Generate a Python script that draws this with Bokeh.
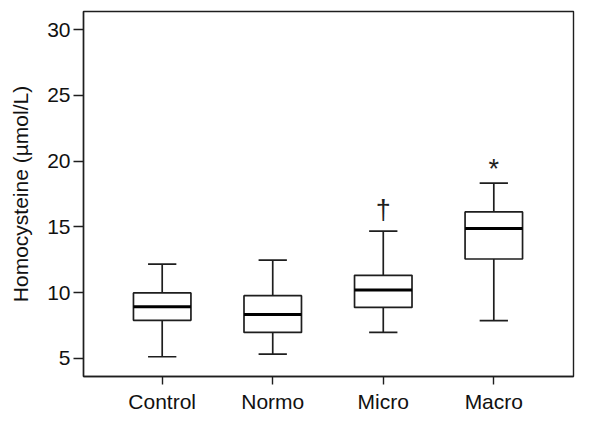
from bokeh.plotting import figure
from bokeh.models import FixedTicker, Range1d
from bokeh.embed import file_html
from bokeh.resources import INLINE
from bokeh.core.properties import value

categories = ["Control", "Normo", "Micro", "Macro"]
lower = [5.13, 5.33, 6.98, 7.87]
q1 = [7.90, 6.98, 8.88, 12.56]
median = [8.93, 8.35, 10.20, 14.87]
q3 = [9.98, 9.77, 11.32, 16.14]
upper = [12.17, 12.47, 14.68, 18.33]
marks = ["", "", "\u2020", "*"]
mark_y = [None, None, 16.3, 19.4]

y_ticks = [5, 10, 15, 20, 25, 30]

FONT = "Liberation Sans"
INK = "#1e1e1e"

xs = list(range(1, len(categories) + 1))
box_w = 0.52
cap_w = 0.256

p = figure(width=600, height=421, output_backend="svg", toolbar_location=None,
           x_range=Range1d(0.288, 4.721), y_range=Range1d(3.63, 31.37),
           min_border_left=83, min_border_right=27, min_border_top=11, min_border_bottom=45)

p.xgrid.visible = False
p.ygrid.visible = False
p.outline_line_color = INK
p.outline_line_width = 1.4
p.background_fill_color = "white"
p.border_fill_color = "white"

LW = 1.7
# whiskers
p.segment(x0=xs, x1=xs, y0=q3, y1=upper, line_color=INK, line_width=LW)
p.segment(x0=xs, x1=xs, y0=lower, y1=q1, line_color=INK, line_width=LW)
p.segment(x0=[x - cap_w / 2 for x in xs], x1=[x + cap_w / 2 for x in xs],
          y0=upper, y1=upper, line_color=INK, line_width=LW)
p.segment(x0=[x - cap_w / 2 for x in xs], x1=[x + cap_w / 2 for x in xs],
          y0=lower, y1=lower, line_color=INK, line_width=LW)
# boxes
p.vbar(x=xs, width=box_w, bottom=q1, top=q3, fill_color="white",
       line_color=INK, line_width=LW)
# medians
p.segment(x0=[x - box_w / 2 for x in xs], x1=[x + box_w / 2 for x in xs],
          y0=median, y1=median, line_color="black", line_width=3)

# significance marks
mx = [x for x, m in zip(xs, marks) if m]
my = [y for y, m in zip(mark_y, marks) if m]
mt = [m for m in marks if m]
p.text(x=mx, y=my, text=mt, text_align="center", text_baseline="middle",
       text_font=value(FONT), text_font_size="27px", text_color=INK)

# axes
p.xaxis.ticker = FixedTicker(ticks=xs)
p.xaxis.major_label_overrides = {x: c for x, c in zip(xs, categories)}
p.yaxis.ticker = FixedTicker(ticks=y_ticks)
for ax in (p.xaxis[0], p.yaxis[0]):
    ax.axis_line_color = INK
    ax.axis_line_width = 1.4
    ax.major_tick_line_color = INK
    ax.major_tick_line_width = 1.4
    ax.major_tick_in = 0
    ax.minor_tick_line_color = None
    ax.major_label_text_font = FONT
    ax.major_label_text_font_size = "21px"
    ax.major_label_text_color = "#111111"
p.xaxis.major_tick_out = 8
p.xaxis.major_label_standoff = 5
p.yaxis.major_tick_out = 10
p.yaxis.major_label_standoff = 3
p.yaxis.axis_label = "Homocysteine (\u00b5mol/L)"
p.yaxis.axis_label_text_font = FONT
p.yaxis.axis_label_text_font_size = "21px"
p.yaxis.axis_label_text_font_style = "normal"
p.yaxis.axis_label_text_color = "#111111"
p.yaxis.axis_label_standoff = 12

open("out.html", "w").write(file_html(p, INLINE))
